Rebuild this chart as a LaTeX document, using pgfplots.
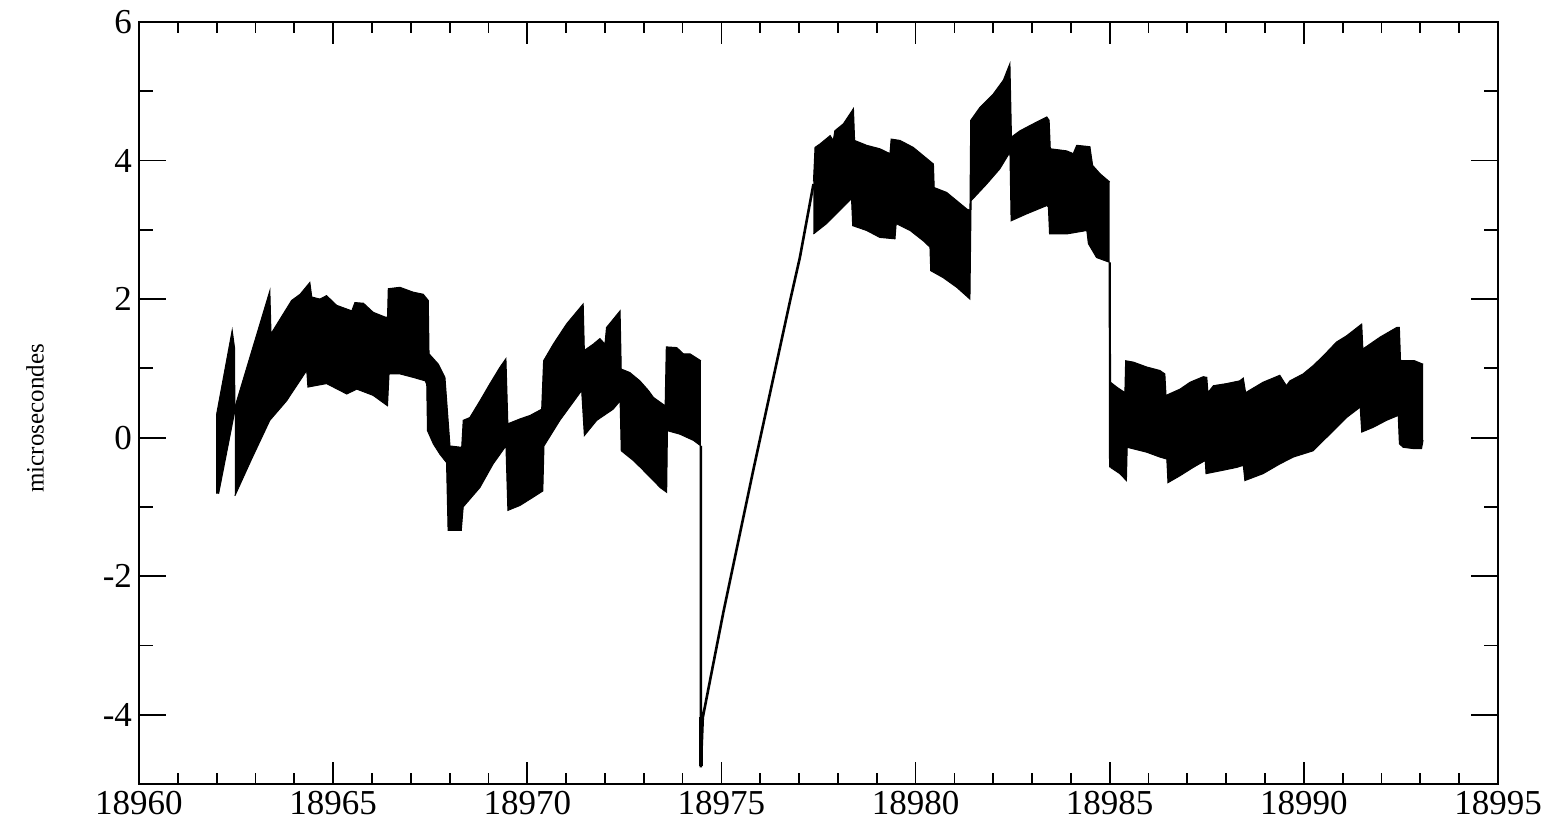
\documentclass[border=0pt]{standalone}
\usepackage{fontspec}
\setmainfont{Liberation Serif}
\usepackage{pgfplots}
\pgfplotsset{compat=1.18}
\usepgfplotslibrary{fillbetween}

\pgfplotsset{
  band/.style={draw=black,line width=0.5pt},
}

\begin{document}
\begin{tikzpicture}
\begin{axis}[
  name=ax, anchor=south west,
  scale only axis, width=679.5pt, height=381pt,
  xmin=18960, xmax=18995, ymin=-5, ymax=6,
  xtick={18960,18965,18970,18975,18980,18985,18990,18995},
  xticklabels={18960,18965,18970,18975,18980,18985,18990,18995},
  minor x tick num=4,
  ytick={-4,-2,0,2,4,6}, minor y tick num=1,
  tick pos=both, tick align=inside,
  axis line style={line width=1pt},
  every tick/.style={black,line width=0.9pt},
  xtick style={/pgfplots/major tick length=11pt,/pgfplots/minor tick length=5.6pt},
  ytick style={/pgfplots/major tick length=13.5pt,/pgfplots/minor tick length=7pt},
  scaled x ticks=false,
  /pgf/number format/.cd, 1000 sep={}, assume math mode=true,
  /pgfplots/.cd,
  tick label style={font=\fontsize{17.5}{17.5}\selectfont},
  ylabel={microsecondes},
  every axis y label/.style={at={(axis description cs:-0.0765,0.48)},rotate=90,anchor=center,
    font=\fontsize{12.5}{13}\selectfont},
]

% first short ramp
\addplot[band,fill=black] coordinates {(18962.00,-0.81) (18962.00,0.34) (18962.40,1.55) (18962.46,1.30) (18962.47,0.39) (18962.05,-0.81)};

% band 1
\addplot[band,name path=u1] coordinates {
(18962.47,0.44) (18963.37,2.12) (18963.40,1.50) (18963.93,1.98) (18964.15,2.07) (18964.40,2.24) (18964.45,2.03)
(18964.66,2.00) (18964.83,2.05) (18965.09,1.91) (18965.48,1.83) (18965.56,1.95) (18965.78,1.94) (18966.03,1.81)
(18966.34,1.74) (18966.40,1.74) (18966.42,2.15) (18966.72,2.17) (18967.06,2.10) (18967.32,2.07) (18967.45,1.98)
(18967.47,1.21) (18967.71,1.06) (18967.88,0.87) (18968.01,-0.12) (18968.31,-0.14) (18968.35,0.25) (18968.52,0.29)
(18968.78,0.53) (18969.04,0.78) (18969.30,1.02) (18969.45,1.14) (18969.50,0.20) (18969.81,0.27) (18970.07,0.32)
(18970.37,0.41) (18970.42,1.11) (18970.67,1.35) (18971.01,1.64) (18971.44,1.93) (18971.47,1.26) (18971.70,1.35)
(18971.87,1.43) (18972.00,1.35) (18972.04,1.59) (18972.39,1.83) (18972.42,0.99) (18972.64,0.94) (18972.90,0.82)
(18973.12,0.68) (18973.25,0.58) (18973.55,0.46) (18973.58,1.31) (18973.85,1.30) (18974.02,1.21) (18974.19,1.21)
(18974.47,1.11)};
\addplot[band,name path=l1] coordinates {
(18962.47,-0.84) (18962.90,-0.31) (18963.37,0.25) (18963.80,0.53) (18964.32,0.97) (18964.35,0.73) (18964.83,0.78)
(18965.35,0.63) (18965.61,0.70) (18966.03,0.61) (18966.40,0.46) (18966.44,0.92) (18966.72,0.92) (18967.06,0.87)
(18967.37,0.82) (18967.41,0.77) (18967.43,0.10) (18967.58,-0.09) (18967.75,-0.24) (18967.92,-0.36) (18967.96,-1.34)
(18968.30,-1.34) (18968.35,-1.00) (18968.78,-0.72) (18969.12,-0.38) (18969.45,-0.12) (18969.50,-1.05) (18969.81,-0.98)
(18970.15,-0.86) (18970.40,-0.77) (18970.43,-0.12) (18970.84,0.25) (18971.40,0.68) (18971.47,0.03) (18971.79,0.25)
(18972.21,0.41) (18972.39,0.53) (18972.42,-0.19) (18972.73,-0.33) (18972.95,-0.45) (18973.07,-0.52) (18973.25,-0.62)
(18973.42,-0.72) (18973.59,-0.79) (18973.61,0.10) (18973.93,0.05) (18974.28,-0.04) (18974.47,-0.12)};
\addplot[fill=black,draw=none] fill between[of=u1 and l1];

% band 2
\addplot[band,name path=u2] coordinates {
(18977.37,3.70) (18977.41,4.19) (18977.54,4.24) (18977.80,4.36) (18977.88,4.29) (18977.92,4.43) (18978.14,4.53)
(18978.40,4.75) (18978.43,4.29) (18978.74,4.22) (18979.08,4.17) (18979.34,4.10) (18979.37,4.31) (18979.60,4.29)
(18979.94,4.19) (18980.20,4.07) (18980.46,3.95) (18980.48,3.61) (18980.80,3.54) (18981.06,3.42) (18981.32,3.30)
(18981.40,3.28) (18981.42,4.58) (18981.66,4.77) (18982.00,4.96) (18982.26,5.16) (18982.43,5.40) (18982.47,4.34)
(18982.69,4.43) (18983.03,4.53) (18983.38,4.63) (18983.44,4.58) (18983.47,4.17) (18983.89,4.14) (18984.06,4.10)
(18984.15,4.22) (18984.49,4.20) (18984.56,3.93) (18984.75,3.81) (18985.00,3.69)};
\addplot[band,name path=l2] coordinates {
(18977.37,2.94) (18977.71,3.09) (18978.05,3.28) (18978.35,3.45) (18978.38,3.06) (18978.74,2.99) (18979.08,2.89)
(18979.47,2.87) (18979.50,3.09) (18979.86,2.99) (18980.20,2.84) (18980.37,2.75) (18980.39,2.41) (18980.71,2.31)
(18981.06,2.17) (18981.40,2.00) (18981.43,3.42) (18981.83,3.66) (18982.17,3.88) (18982.43,4.12) (18982.46,3.13)
(18982.86,3.23) (18983.38,3.35) (18983.42,3.33) (18983.45,2.94) (18983.89,2.94) (18984.41,2.99) (18984.45,2.80)
(18984.66,2.60) (18985.00,2.53)};
\addplot[fill=black,draw=none] fill between[of=u2 and l2];

% band 3
\addplot[band,name path=u3] coordinates {
(18985.02,0.80) (18985.18,0.73) (18985.39,0.65) (18985.41,1.11) (18985.61,1.09) (18985.95,1.02) (18986.29,0.97)
(18986.42,0.92) (18986.45,0.61) (18986.81,0.70) (18987.07,0.80) (18987.41,0.88) (18987.50,0.87) (18987.53,0.65)
(18987.67,0.75) (18988.01,0.78) (18988.35,0.82) (18988.44,0.86) (18988.50,0.65) (18988.95,0.80) (18989.38,0.90)
(18989.55,0.75) (18989.64,0.82) (18989.98,0.92) (18990.24,1.04) (18990.50,1.18) (18990.84,1.38) (18991.10,1.47)
(18991.49,1.64) (18991.52,1.28) (18991.96,1.45) (18992.39,1.59) (18992.46,1.59) (18992.49,1.11) (18992.85,1.11)
(18993.07,1.06)};
\addplot[band,name path=l3] coordinates {
(18985.02,-0.43) (18985.26,-0.52) (18985.43,-0.62) (18985.45,-0.14) (18985.95,-0.21) (18986.29,-0.28) (18986.47,-0.31)
(18986.50,-0.65) (18986.81,-0.55) (18987.15,-0.43) (18987.46,-0.33) (18987.48,-0.52) (18987.84,-0.48) (18988.27,-0.43)
(18988.44,-0.40) (18988.48,-0.62) (18988.95,-0.52) (18989.38,-0.38) (18989.73,-0.28) (18990.24,-0.19) (18990.67,0.05)
(18991.10,0.29) (18991.45,0.44) (18991.49,0.08) (18991.79,0.15) (18992.13,0.25) (18992.43,0.32) (18992.46,-0.09)
(18992.56,-0.14) (18992.85,-0.16) (18993.03,-0.16) (18993.07,-0.04)};
\addplot[fill=black,draw=none] fill between[of=u3 and l3];

% connecting lines
\addplot[black,line width=1.3pt] coordinates {(18974.47,-0.12) (18974.47,-4.76) (18974.52,-4.04) (18975.05,-2.52)
  (18975.82,-0.47) (18976.77,1.98) (18977.02,2.60) (18977.37,3.66)};
\addplot[black,line width=2.2pt] coordinates {(18974.47,-4.04) (18974.47,-4.74)};
\addplot[black,line width=1.1pt] coordinates {(18985.00,2.53) (18985.01,-0.43)};
\end{axis}
\path (ax.south west) ++(-69.5pt,-18.5pt) coordinate (bl);
\path (ax.south west) ++(706pt,392pt) coordinate (tr);
\path (bl) (tr);
\end{tikzpicture}
\end{document}
